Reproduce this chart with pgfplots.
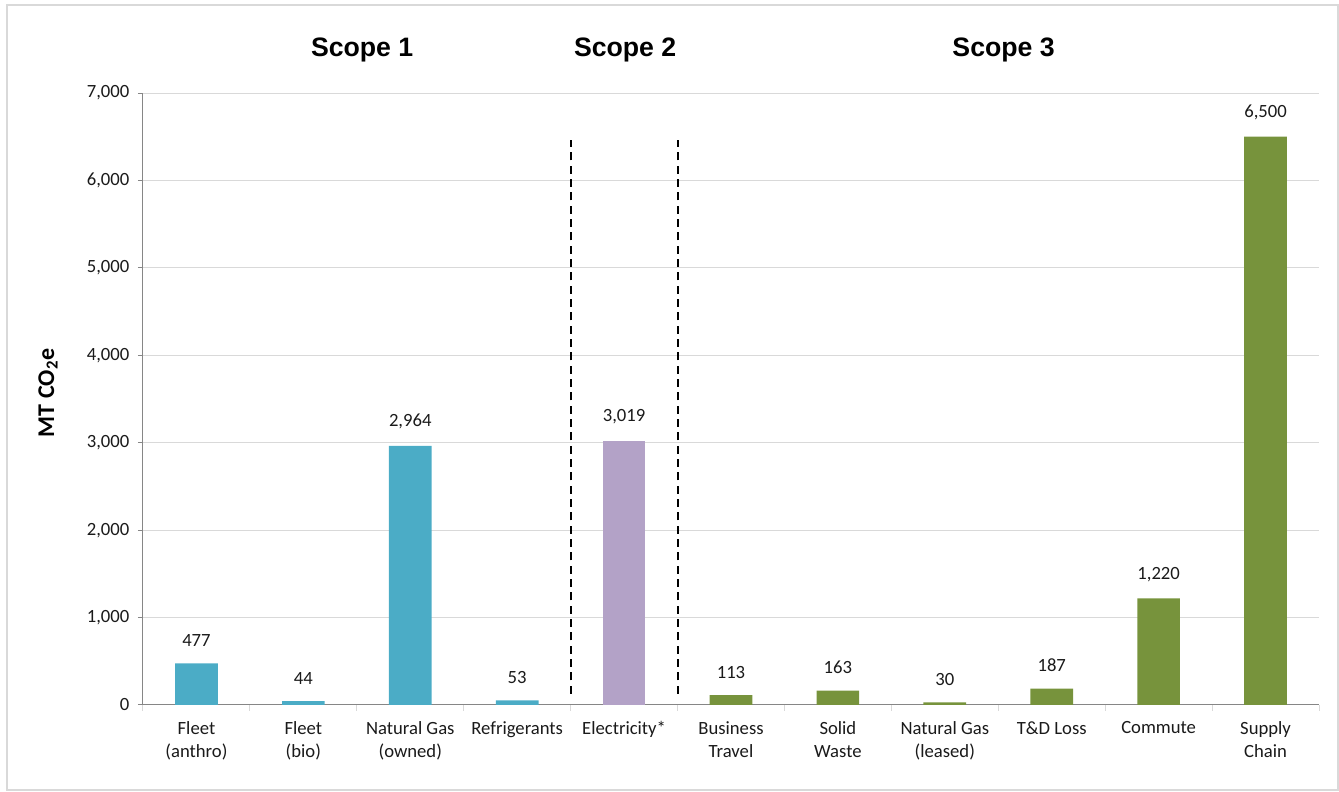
\documentclass[border=0pt]{standalone}
\usepackage{fontspec}
\setmainfont{Carlito}
\newfontfamily\arialfont{Liberation Sans}
\usepackage{pgfplots}
\pgfplotsset{compat=1.18}

\definecolor{scopeone}{HTML}{4BACC6}
\definecolor{scopetwo}{HTML}{B3A2C7}
\definecolor{scopethree}{HTML}{77933C}
\definecolor{gridgray}{HTML}{D9D9D9}
\definecolor{axisgray}{HTML}{868686}
\definecolor{labelgray}{HTML}{1A1A1A}

\newcommand{\tickfont}{\fontsize{14}{17.5}\selectfont}

\begin{document}
\begin{tikzpicture}[x=1pt,y=1pt]
\useasboundingbox (0,0) rectangle (1004.25,594);
\draw[gridgray, line width=1pt] (5.25,1.5) rectangle (1003.5,590.25);
\begin{axis}[
    at={(107.25pt,65.25pt)}, anchor=south west,
    scale only axis, width=882pt, height=459pt,
    clip=false,
    xmin=-0.5, xmax=10.5, ymin=0, ymax=7000,
    axis lines=left,
    axis line style={axisgray, line width=0.75pt, -},
    tick align=outside,
    ytick={0,1000,...,7000},
    ymajorgrids,
    grid style={gridgray, line width=0.75pt},
    major tick length=3.75pt,
    minor tick length=4.5pt,
    every major y tick/.append style={axisgray, line width=0.75pt},
    every major x tick/.append style={draw=none},
    minor xtick={-0.5,0.5,...,10.5},
    every minor x tick/.append style={gridgray, line width=0.75pt},
    xtick={0,...,10},
    xticklabels={{Fleet\\(anthro)},{Fleet\\(bio)},{Natural Gas\\(owned)},Refrigerants,Electricity*,{Business\\Travel},{Solid\\Waste},{Natural Gas\\(leased)},T\&D Loss,Commute,{Supply\\Chain}},
    xticklabel style={align=center, font=\tickfont, text=labelgray, yshift=-5pt},
    yticklabel style={font=\tickfont, text=labelgray, xshift=-3pt},
    /pgf/number format/.cd, fixed, precision=0, 1000 sep={,}, assume math mode=true,
    /pgfplots/.cd,
    scaled y ticks=false,
    every node near coord/.append style={font=\tickfont, text=labelgray, yshift=9pt},
]
\addplot[ybar, bar width=32pt, fill=scopeone, draw=none, nodes near coords] coordinates {
    (0,477) (1,44) (2,2964) (3,53)
};
\addplot[ybar, bar width=32pt, fill=scopetwo, draw=none, nodes near coords] coordinates {
    (4,3019)
};
\addplot[ybar, bar width=32pt, fill=scopethree, draw=none, nodes near coords] coordinates {
    (5,113) (6,163) (7,30) (8,187) (9,1220) (10,6500)
};
\addplot[black, line width=1.5pt, dash pattern=on 6pt off 4pt] coordinates {(3.5,130) (3.5,6460)};
\addplot[black, line width=1.5pt, dash pattern=on 6pt off 4pt] coordinates {(4.5,130) (4.5,6460)};
\node[font=\arialfont\bfseries\fontsize{20}{24}\selectfont] at (axis cs:1.55,7492) {Scope 1};
\node[font=\arialfont\bfseries\fontsize{20}{24}\selectfont] at (axis cs:4.01,7492) {Scope 2};
\node[font=\arialfont\bfseries\fontsize{20}{24}\selectfont] at (axis cs:7.55,7492) {Scope 3};
\node[rotate=90, font=\bfseries\fontsize{18}{22}\selectfont] at ([xshift=-71.25pt]rel axis cs:0,0.51) {MT CO\textsubscript{2}e};
\end{axis}
\end{tikzpicture}
\end{document}
